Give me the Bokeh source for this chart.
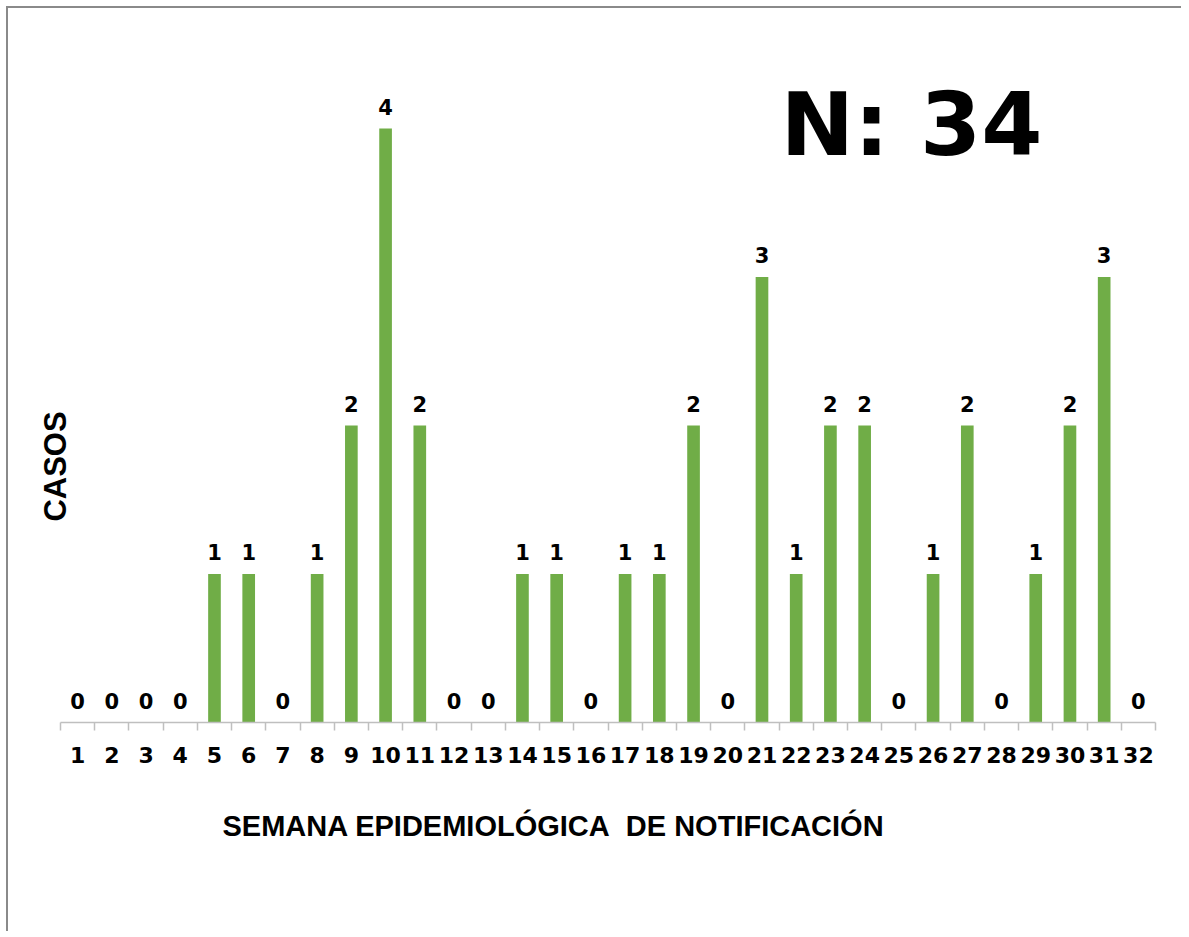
import math
from bokeh.plotting import figure
from bokeh.models import Range1d, FixedTicker, ColumnDataSource, LabelSet, Label, Title
from bokeh.core.properties import value
from bokeh.embed import file_html
from bokeh.resources import INLINE

# ---- data ----
semanas = list(range(1, 33))
casos = [0, 0, 0, 0, 1, 1, 0, 1, 2, 4, 2, 0, 0, 1, 1, 0,
         1, 1, 2, 0, 3, 1, 2, 2, 0, 1, 2, 0, 1, 2, 3, 0]
tick_labels = [str(s) for s in semanas]
x_title = "SEMANA EPIDEMIOLÓGICA\u00a0 DE NOTIFICACIÓN"
y_title = "CASOS"

GREEN = "#70AD47"
AXIS_GRAY = "#BFBFBF"

src = ColumnDataSource(dict(x=semanas, top=casos, label=[str(c) for c in casos]))

p = figure(width=1175, height=925, output_backend="svg", toolbar_location=None,
           x_range=Range1d(-0.669, 32.5), y_range=Range1d(0, 4.66),
           min_border_left=12, min_border_right=28, min_border_top=22,
           min_border_bottom=211)
p.styles = {"margin-left": "8px", "margin-top": "8px",
            "box-shadow": "-2px -2px 0px 0px #8a8a8a"}
p.outline_line_color = None
p.background_fill_color = "white"
p.border_fill_color = "white"
p.xgrid.visible = False
p.ygrid.visible = False
p.yaxis.visible = False

p.vbar(x="x", top="top", width=0.37, source=src, fill_color=GREEN, line_color=None)

labels = LabelSet(x="x", y="top", text="label", source=src, text_align="center",
                  text_baseline="alphabetic", y_offset=14,
                  text_font=value("DejaVu Sans"), text_font_style=value("bold"),
                  text_font_size=value("21px"), text_color=value("black"))
p.add_layout(labels)

bounds = [s - 0.5 for s in semanas] + [semanas[-1] + 0.5]
ax = p.xaxis[0]
ax.bounds = (bounds[0], bounds[-1])
ax.ticker = FixedTicker(ticks=semanas, minor_ticks=bounds)
ax.major_label_overrides = {s: t for s, t in zip(semanas, tick_labels)}
ax.axis_line_color = AXIS_GRAY
ax.axis_line_width = 1.5
ax.major_tick_line_color = None
ax.major_tick_out = 0
ax.major_tick_in = 0
ax.minor_tick_line_color = AXIS_GRAY
ax.minor_tick_line_width = 1.5
ax.minor_tick_out = 8
ax.minor_tick_in = 0
ax.major_label_standoff = 16
ax.major_label_text_font = "DejaVu Sans"
ax.major_label_text_font_style = "bold"
ax.major_label_text_font_size = "22px"
ax.major_label_text_color = "black"

p.add_layout(Title(text=x_title, align="left", offset=202, standoff=84,
                   text_font="Liberation Sans", text_font_style="bold",
                   text_font_size="29px", text_color="black"), "below")
p.add_layout(Label(x=0.354, y=1.724, text=y_title, angle=math.pi / 2,
                   text_align="center", text_baseline="middle",
                   text_font="Liberation Sans", text_font_style="bold",
                   text_font_size="31px", text_color="black"))
p.add_layout(Label(x=21.54, y=4.03, text=f"N: {sum(casos)}", text_align="left",
                   text_baseline="alphabetic", text_font="DejaVu Sans",
                   text_font_style="bold", text_font_size="88px", text_color="black"))

open("out.html", "w").write(file_html(p, INLINE))
